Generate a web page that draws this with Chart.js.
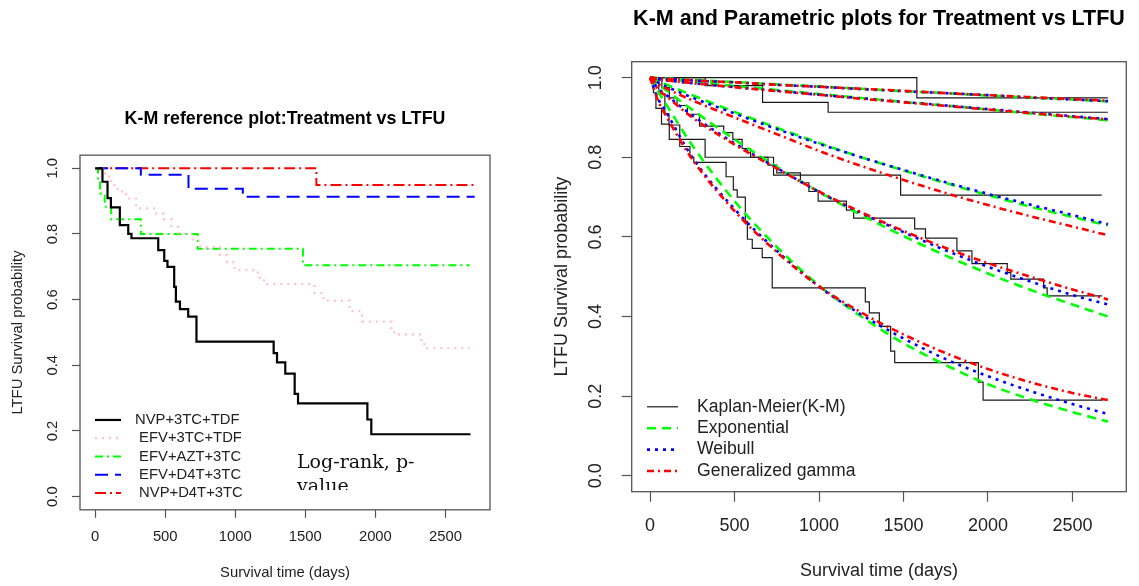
<!DOCTYPE html>
<html>
<head>
<meta charset="utf-8">
<title>K-M and parametric survival plots</title>
<script src="https://cdn.jsdelivr.net/npm/chart.js@4.4.1/dist/chart.umd.min.js"></script>
<style>
  html, body { margin: 0; padding: 0; background: #fff; }
  body { width: 1139px; height: 586px; position: relative; overflow: hidden; }
  .panel { position: absolute; top: 0; height: 586px; }
  #leftPanel { left: 0; width: 540px; }
  #rightPanel { left: 540px; width: 599px; }
  #logrank {
    position: absolute; left: 297px; top: 449px; width: 140px; height: 41px;
    overflow: hidden; font-family: "DejaVu Serif", "Liberation Serif", serif;
    font-size: 19px; line-height: 24px; color: #111; z-index: 2;
  }
</style>
</head>
<body>
<div class="panel" id="leftPanel"><canvas id="kmChart"></canvas></div>
<div class="panel" id="rightPanel"><canvas id="paramChart"></canvas></div>
<div id="logrank">Log-rank, p-<br>value</div>
<script>
// axis ticks
const xTicks = [0, 500, 1000, 1500, 2000, 2500];
const yTicks = [0, 0.2, 0.4, 0.6, 0.8, 1.0];

// Kaplan-Meier steps: day of the drop and survival after it
const nvp3tcTdfDays = [0, 52, 88, 112, 176, 236, 259, 450, 493, 516, 564, 576, 605, 664, 723, 1274, 1298, 1357, 1424, 1448, 1943, 1971, 2679];
const nvp3tcTdfSurv = [1.0, 0.959, 0.909, 0.881, 0.827, 0.800, 0.787, 0.751, 0.718, 0.700, 0.639, 0.594, 0.571, 0.548, 0.472, 0.437, 0.409, 0.375, 0.313, 0.284, 0.235, 0.190, 0.190];

const efv3tcTdfDays = [0, 70, 114, 160, 221, 293, 436, 490, 545, 595, 698, 750, 890, 940, 995, 1162, 1205, 1566, 1630, 1816, 1905, 2114, 2135, 2329, 2350, 2674];
const efv3tcTdfSurv = [1.0, 0.975, 0.949, 0.93, 0.908, 0.878, 0.862, 0.845, 0.822, 0.80, 0.78, 0.761, 0.736, 0.714, 0.690, 0.667, 0.647, 0.62, 0.597, 0.565, 0.533, 0.51, 0.494, 0.472, 0.452, 0.452];

const efvAzt3tcDays = [0, 20, 35, 68, 114, 326, 731, 1483, 2673];
const efvAzt3tcSurv = [1.0, 0.962, 0.923, 0.883, 0.845, 0.800, 0.755, 0.705, 0.705];

const efvD4t3tcDays = [0, 326, 666, 1054, 2709];
const efvD4t3tcSurv = [1.0, 0.980, 0.938, 0.913, 0.913];

const nvpD4t3tcDays = [0, 1579, 2709];
const nvpD4t3tcSurv = [1.0, 0.949, 0.949];

// parametric fits
const fitDays = [0, 50, 100, 250, 500, 750, 1000, 1250, 1500, 1750, 2000, 2250, 2500, 2710];

const nvpD4t3tcExp  = [1, 0.999, 0.998, 0.994, 0.989, 0.983, 0.978, 0.972, 0.966, 0.961, 0.955, 0.950, 0.945, 0.940];
const nvpD4t3tcWeib = [1, 0.998, 0.997, 0.993, 0.988, 0.982, 0.977, 0.971, 0.966, 0.961, 0.956, 0.950, 0.945, 0.941];
const nvpD4t3tcGg   = [1, 0.998, 0.997, 0.993, 0.988, 0.982, 0.977, 0.972, 0.967, 0.961, 0.956, 0.951, 0.946, 0.942];

const efvD4t3tcExp  = [1, 0.998, 0.996, 0.990, 0.979, 0.969, 0.959, 0.949, 0.939, 0.930, 0.920, 0.910, 0.901, 0.893];
const efvD4t3tcWeib = [1, 0.996, 0.993, 0.986, 0.976, 0.967, 0.957, 0.948, 0.939, 0.930, 0.921, 0.912, 0.903, 0.896];
const efvD4t3tcGg   = [1, 0.996, 0.993, 0.986, 0.976, 0.966, 0.957, 0.947, 0.938, 0.929, 0.920, 0.911, 0.902, 0.895];

const efvAzt3tcExp  = [1, 0.991, 0.982, 0.956, 0.914, 0.874, 0.836, 0.800, 0.767, 0.735, 0.705, 0.676, 0.650, 0.629];
const efvAzt3tcWeib = [1, 0.987, 0.977, 0.950, 0.910, 0.871, 0.834, 0.800, 0.768, 0.737, 0.708, 0.681, 0.655, 0.632];
const efvAzt3tcGg   = [1, 0.983, 0.972, 0.943, 0.900, 0.858, 0.816, 0.778, 0.743, 0.710, 0.680, 0.652, 0.626, 0.604];

const efv3tcTdfExp  = [1, 0.983, 0.967, 0.919, 0.845, 0.776, 0.713, 0.655, 0.602, 0.553, 0.508, 0.467, 0.430, 0.400];
const efv3tcTdfWeib = [1, 0.972, 0.955, 0.905, 0.835, 0.773, 0.713, 0.660, 0.612, 0.566, 0.525, 0.488, 0.454, 0.430];
const efv3tcTdfGg   = [1, 0.970, 0.952, 0.900, 0.832, 0.772, 0.714, 0.662, 0.615, 0.572, 0.534, 0.500, 0.468, 0.443];

const nvp3tcTdfExp  = [1, 0.964, 0.930, 0.830, 0.690, 0.575, 0.478, 0.400, 0.333, 0.278, 0.230, 0.192, 0.160, 0.136];
const nvp3tcTdfWeib = [1, 0.945, 0.910, 0.800, 0.670, 0.565, 0.475, 0.405, 0.345, 0.293, 0.250, 0.213, 0.180, 0.155];
const nvp3tcTdfGg   = [1, 0.940, 0.900, 0.795, 0.665, 0.562, 0.476, 0.410, 0.355, 0.308, 0.268, 0.235, 0.208, 0.190];

const groupNames = ["NVP+3TC+TDF", " EFV+3TC+TDF", " EFV+AZT+3TC", " EFV+D4T+3TC", " NVP+D4T+3TC"];
const modelNames = ["Kaplan-Meier(K-M)", "Exponential", "Weibull", "Generalized gamma"];

Chart.defaults.font.family = '"Liberation Sans", Arial, sans-serif';
Chart.defaults.color = "#222";

function pts(days, vals) {
  return days.map((d, i) => ({ x: d, y: vals[i] }));
}

// box round the plot region plus an R style key inside it
function frameAndKey(id, key) {
  return {
    id: id,
    afterDatasetsDraw(chart) {
      const ctx = chart.ctx;
      const a = chart.chartArea;
      ctx.save();
      ctx.strokeStyle = "#555";
      ctx.lineWidth = 1.3;
      ctx.setLineDash([]);
      ctx.strokeRect(a.left, a.top, a.right - a.left, a.bottom - a.top);
      ctx.font = key.size + 'px "Liberation Sans", Arial, sans-serif';
      ctx.textBaseline = "middle";
      ctx.textAlign = "left";
      key.items.forEach((it, i) => {
        const y = a.top + key.y0 + i * key.dy;
        ctx.beginPath();
        ctx.setLineDash(it.dash);
        ctx.strokeStyle = it.color;
        ctx.lineWidth = it.width;
        ctx.moveTo(a.left + key.x0, y);
        ctx.lineTo(a.left + key.x1, y);
        ctx.stroke();
        ctx.setLineDash([]);
        ctx.fillStyle = "#222";
        ctx.fillText(it.label, a.left + key.textX, y);
      });
      ctx.restore();
    }
  };
}

function axes(c) {
  const grid = { drawOnChartArea: false, drawTicks: true, tickLength: c.tickLen, tickColor: "#555", tickWidth: 1.2 };
  return {
    x: {
      type: "linear", min: -108.4, max: 2818.4,
      afterBuildTicks: (s) => { s.ticks = xTicks.map(v => ({ value: v })); },
      afterFit: (s) => { s.height = c.xAxisH; },
      grid: grid,
      border: { display: false },
      ticks: { padding: c.xTickPad, maxRotation: 0, autoSkip: false, font: { size: c.fs }, callback: v => String(v) },
      title: { display: true, text: "Survival time (days)", font: { size: c.fs }, padding: { top: 0, bottom: c.xTitlePad } }
    },
    y: {
      type: "linear", min: -0.04, max: 1.04,
      afterBuildTicks: (s) => { s.ticks = yTicks.map(v => ({ value: v })); },
      afterFit: (s) => { s.width = c.yAxisW; },
      grid: grid,
      border: { display: false },
      ticks: { padding: c.yTickPad, minRotation: 90, maxRotation: 90, crossAlign: "center", font: { size: c.fs }, callback: v => v.toFixed(1) },
      title: { display: true, text: "LTFU Survival probability", font: { size: c.fs }, padding: { top: c.yTitlePad, bottom: 0 } }
    }
  };
}

// ---- left panel: K-M reference plot ----
const kmStyles = [
  { color: "#000000", dash: [], width: 2.2 },
  { color: "#FFC0CB", dash: [2, 5], width: 2.2 },
  { color: "#00FF00", dash: [8, 4, 2, 4], width: 2 },
  { color: "#0000FF", dash: [13, 7], width: 2 },
  { color: "#FF0000", dash: [11, 4, 2, 4], width: 2 }
];
const kmSeries = [
  pts(nvp3tcTdfDays, nvp3tcTdfSurv),
  pts(efv3tcTdfDays, efv3tcTdfSurv),
  pts(efvAzt3tcDays, efvAzt3tcSurv),
  pts(efvD4t3tcDays, efvD4t3tcSurv),
  pts(nvpD4t3tcDays, nvpD4t3tcSurv)
];

new Chart(document.getElementById("kmChart"), {
  type: "line",
  data: {
    datasets: kmSeries.map((d, i) => ({
      label: groupNames[i].trim(),
      data: d,
      stepped: "before",
      borderColor: kmStyles[i].color,
      borderDash: kmStyles[i].dash,
      borderWidth: kmStyles[i].width,
      pointRadius: 0,
      fill: false
    }))
  },
  options: {
    responsive: true,
    maintainAspectRatio: false,
    animation: false,
    layout: { padding: { left: 0, right: 50, top: 0, bottom: 0 } },
    plugins: {
      legend: { display: false },
      tooltip: { enabled: false },
      title: {
        display: true, fullSize: false,
        text: "K-M reference plot:Treatment vs LTFU",
        color: "#000",
        font: { size: 17.8, weight: "bold" },
        padding: { top: 108.3, bottom: 25.5 }
      }
    },
    scales: axes({ fs: 14.8, tickLen: 8, xTickPad: 10, yTickPad: 8.7, xTitlePad: 4.1, yTitlePad: 9.1, xAxisH: 76.2, yAxisW: 80 })
  },
  plugins: [frameAndKey("kmFrame", {
    size: 14.8, x0: 15, x1: 41, textX: 55, y0: 264.8, dy: 18.25,
    items: groupNames.map((n, i) => ({ label: n, color: kmStyles[i].color, dash: kmStyles[i].dash, width: kmStyles[i].width }))
  })]
});

// ---- right panel: K-M and parametric fits ----
const modelStyles = [
  { color: "#1a1a1a", dash: [], width: 1.2 },
  { color: "#00FF00", dash: [9, 6], width: 2.6 },
  { color: "#0000FF", dash: [3, 5], width: 2.6 },
  { color: "#FF0000", dash: [7, 4, 2, 4], width: 2.6 }
];
const fitSets = [
  [nvp3tcTdfExp, nvp3tcTdfWeib, nvp3tcTdfGg],
  [efv3tcTdfExp, efv3tcTdfWeib, efv3tcTdfGg],
  [efvAzt3tcExp, efvAzt3tcWeib, efvAzt3tcGg],
  [efvD4t3tcExp, efvD4t3tcWeib, efvD4t3tcGg],
  [nvpD4t3tcExp, nvpD4t3tcWeib, nvpD4t3tcGg]
];

const paramDatasets = [];
kmSeries.forEach((d, g) => {
  paramDatasets.push({
    label: modelNames[0] + " " + groupNames[g].trim(),
    data: d, stepped: "before", order: 3,
    borderColor: modelStyles[0].color, borderWidth: modelStyles[0].width, pointRadius: 0, fill: false
  });
  fitSets[g].forEach((vals, m) => {
    const st = modelStyles[m + 1];
    paramDatasets.push({
      label: modelNames[m + 1] + " " + groupNames[g].trim(),
      data: pts(fitDays, vals), order: 2 - m,
      cubicInterpolationMode: "monotone",
      borderColor: st.color, borderDash: st.dash, borderWidth: st.width, pointRadius: 0, fill: false
    });
  });
});

new Chart(document.getElementById("paramChart"), {
  type: "line",
  data: { datasets: paramDatasets },
  options: {
    responsive: true,
    maintainAspectRatio: false,
    animation: false,
    layout: { padding: { left: 0, right: 12.7, top: 0, bottom: 0 } },
    plugins: {
      legend: { display: false },
      tooltip: { enabled: false },
      title: {
        display: true, fullSize: false,
        text: "K-M and Parametric plots for Treatment vs LTFU",
        color: "#000",
        font: { size: 21.5, weight: "bold" },
        padding: { top: 6.1, bottom: 29.8 }
      }
    },
    scales: axes({ fs: 18, tickLen: 10, xTickPad: 13.4, yTickPad: 13.5, xTitlePad: 4.6, yTitlePad: 10.9, xAxisH: 94.3, yAxisW: 91.7 })
  },
  plugins: [frameAndKey("paramFrame", {
    size: 17.6, x0: 15.3, x1: 46.3, textX: 65.3, y0: 345.1, dy: 21.4,
    items: modelNames.map((n, i) => ({ label: n, color: modelStyles[i].color, dash: modelStyles[i].dash, width: modelStyles[i].width }))
  })]
});
</script>
</body>
</html>
